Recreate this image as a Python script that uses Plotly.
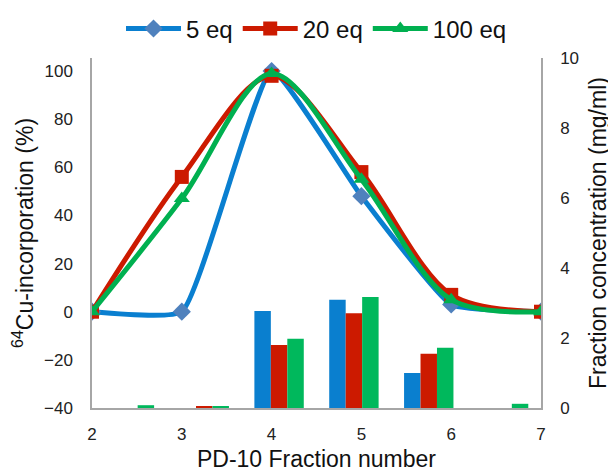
import plotly.graph_objects as go

fractions = [2, 3, 4, 5, 6, 7]
series_names = ["5 eq", "20 eq", "100 eq"]

# 64Cu incorporation (%) - lines, left axis
incorp_5eq = [0, 0, 100, 48, 3, 0]
incorp_20eq = [0, 56, 98, 58, 7, 0]
incorp_100eq = [0, 47, 99, 55, 5, 0]

# Fraction concentration (mg/ml) - bars, right axis
conc_5eq = [0, 0, 2.77, 3.09, 1.0, 0]
conc_20eq = [0, 0.05, 1.8, 2.71, 1.55, 0]
conc_100eq = [0.08, 0.05, 1.98, 3.17, 1.72, 0.12]

left_ticks = [-40, -20, 0, 20, 40, 60, 80, 100]
right_ticks = [0, 2, 4, 6, 8, 10]

line_colors = ["#0A7FD0", "#CC1A00", "#00B050"]
marker_colors = ["#4F81BD", "#CC1A00", "#00B050"]
bar_colors = ["#0A7FCF", "#CC1A00", "#00B85C"]
symbols = ["diamond", "square", "triangle-up"]
smooth = [0.4, 0.9, 0.9]

fig = go.Figure()

bar_cats = [str(f) for f in fractions]
for name, vals, col in zip(series_names, [conc_5eq, conc_20eq, conc_100eq], bar_colors):
    fig.add_trace(go.Bar(x=bar_cats, y=vals, marker=dict(color=col, line=dict(width=0)),
                         xaxis="x2", yaxis="y2", showlegend=False, name=name))

for name, vals, lc, mc, sym, sm in zip(series_names, [incorp_5eq, incorp_20eq, incorp_100eq],
                                       line_colors, marker_colors, symbols, smooth):
    fig.add_trace(go.Scatter(x=fractions, y=vals, mode="lines+markers", name=name,
                             line=dict(color=lc, width=5, shape="spline", smoothing=sm),
                             marker=dict(symbol=sym, size=14, color=mc, line=dict(width=0))))

axis_font = dict(family="Liberation Sans, Arial", size=17, color="#222222")
title_font = dict(family="Liberation Sans, Arial", size=23, color="#111111")

# The page body adds an 8px margin, so the figure is 8px smaller than the window.
fig.update_layout(
    width=608, height=464,
    margin=dict(l=84, r=75, t=50, b=64, autoexpand=False),
    paper_bgcolor="white", plot_bgcolor="white",
    barmode="group", bargap=0.34, bargroupgap=0,
    font=dict(family="Liberation Sans, Arial"),
    legend=dict(orientation="h", x=0.5, xanchor="center", yref="container", y=0.955, yanchor="middle",
                font=dict(family="Liberation Sans, Arial", size=24, color="#111111"),
                itemwidth=55, traceorder="normal"),
    xaxis=dict(range=[2, 7], tickvals=fractions, ticktext=[str(f) for f in fractions],
               showgrid=False, zeroline=False, showline=True, linecolor="#A6A6A6", linewidth=1.5,
               ticks="", tickfont=axis_font, ticklabelstandoff=10, automargin=False,
               title=dict(text="PD-10 Fraction number", font=title_font, standoff=8)),
    xaxis2=dict(overlaying="x", type="category", range=[-0.5, 5.5], visible=False),
    yaxis=dict(range=[-40, 105.4], tickvals=left_ticks, showgrid=False, zeroline=False,
               showline=True, linecolor="#A6A6A6", linewidth=1.5, ticks="", tickfont=axis_font,
               ticklabelstandoff=14, automargin=False,
               title=dict(text="<sup>64</sup>Cu-incorporation (%)", font=title_font, standoff=8)),
    yaxis2=dict(range=[0, 10], tickvals=right_ticks, overlaying="y", side="right", anchor="x2",
                showgrid=False, zeroline=False, showline=True, linecolor="#A6A6A6", linewidth=1.5,
                ticks="", tickfont=axis_font, ticklabelstandoff=14, automargin=False,
                title=dict(text="Fraction concentration (mg/ml)", font=title_font, standoff=12)),
)

fig.write_html("out.html")
